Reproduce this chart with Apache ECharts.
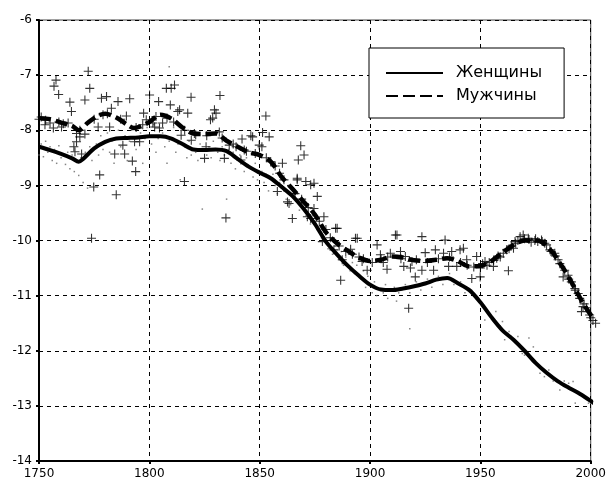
<!DOCTYPE html>
<html>
<head>
<meta charset="utf-8">
<script src="https://cdn.jsdelivr.net/npm/echarts@6/dist/echarts.min.js"></script>
<style>
  html, body { margin: 0; padding: 0; background: #fff; }
  #chart { width: 609px; height: 480px; }
</style>
</head>
<body>
<div id="chart"></div>
<script>
// Axis ranges and tick spacing
const yearTicks = { min: 1750, max: 2000, step: 50 };
const valueTicks = { min: -14, max: -6, step: 1 };

// Smoothed trend, women: [year, value]
const womenTrend = [
  [1750,-8.30],[1755,-8.36],[1760,-8.43],[1765,-8.51],[1768,-8.57],[1770,-8.52],
  [1775,-8.33],[1780,-8.21],[1785,-8.15],[1790,-8.14],[1795,-8.13],[1800,-8.11],
  [1805,-8.11],[1810,-8.15],[1815,-8.25],[1820,-8.35],[1825,-8.36],[1830,-8.35],
  [1835,-8.38],[1840,-8.52],[1845,-8.66],[1850,-8.77],[1855,-8.87],[1860,-9.03],
  [1865,-9.20],[1870,-9.43],[1875,-9.70],[1880,-10.02],[1885,-10.25],[1890,-10.46],
  [1895,-10.64],[1900,-10.80],[1905,-10.89],[1910,-10.90],[1915,-10.87],[1920,-10.83],
  [1925,-10.78],[1930,-10.71],[1935,-10.68],[1940,-10.78],[1945,-10.90],[1950,-11.12],
  [1955,-11.39],[1960,-11.63],[1965,-11.80],[1970,-12.00],[1975,-12.22],[1980,-12.40],
  [1985,-12.55],[1990,-12.67],[1995,-12.78],[2000,-12.91],[2002,-12.97]
];

// Smoothed trend, men: [year, value]
const menTrend = [
  [1750,-7.78],[1755,-7.80],[1760,-7.86],[1765,-7.92],[1768,-8.00],[1772,-7.87],
  [1776,-7.75],[1780,-7.70],[1785,-7.77],[1790,-7.90],[1793,-7.96],[1796,-7.93],
  [1800,-7.85],[1805,-7.72],[1810,-7.79],[1815,-7.95],[1820,-8.06],[1825,-8.07],
  [1830,-8.06],[1835,-8.19],[1840,-8.30],[1845,-8.40],[1850,-8.45],[1855,-8.57],
  [1860,-8.85],[1865,-9.07],[1870,-9.30],[1875,-9.53],[1880,-9.85],[1885,-10.05],
  [1890,-10.19],[1895,-10.31],[1900,-10.37],[1905,-10.35],[1910,-10.29],[1915,-10.31],
  [1920,-10.36],[1925,-10.37],[1930,-10.35],[1935,-10.32],[1940,-10.38],[1945,-10.47],
  [1950,-10.46],[1955,-10.37],[1960,-10.22],[1965,-10.08],[1970,-10.00],[1975,-10.00],
  [1978,-10.03],[1980,-10.10],[1983,-10.23],[1985,-10.35],[1988,-10.53],[1990,-10.67],
  [1993,-10.88],[1996,-11.10],[2000,-11.35],[2002,-11.43]
];

// Yearly observations, men: [year, value]
const menObserved = [
  [1750,-7.80],[1751,-7.76],[1752.7,-7.90],[1753,-7.82],[1755,-7.87],[1756.5,-7.96],
  [1756.8,-7.20],[1757.7,-7.09],[1758.9,-7.35],[1759,-7.85],[1760.2,-7.94],[1761,-7.88],
  [1763.2,-7.87],[1764,-7.49],[1764.7,-7.66],[1765.8,-8.30],[1766.3,-8.39],[1767,-8.06],
  [1767,-8.21],[1768.5,-8.00],[1768.5,-8.12],[1769.3,-8.43],[1770.8,-7.45],[1770.8,-8.07],
  [1772.3,-6.93],[1773,-7.24],[1773.8,-9.96],[1774.8,-9.03],[1775,-7.80],[1776.8,-7.94],
  [1777.5,-8.81],[1778.3,-7.42],[1779,-7.72],[1780.6,-7.39],[1781,-7.70],[1782,-7.94],
  [1782.8,-7.60],[1784.3,-8.43],[1785,-9.17],[1785.8,-7.48],[1787,-7.80],[1788,-8.27],
  [1788.8,-8.43],[1789.6,-7.74],[1791.1,-7.43],[1792.3,-8.56],[1793.3,-8.21],[1793.8,-8.75],
  [1794,-7.95],[1795.6,-8.21],[1797,-7.90],[1797.4,-7.69],[1798.6,-7.81],[1800.1,-7.36],
  [1801.6,-7.87],[1802.4,-7.94],[1803,-7.75],[1804.2,-7.48],[1804.6,-7.96],[1806,-7.87],
  [1807.7,-7.24],[1808,-7.78],[1809.5,-7.54],[1809.9,-7.24],[1811,-7.85],[1811.4,-7.18],
  [1812.9,-7.66],[1813.7,-7.63],[1814.4,-8.09],[1815.9,-8.93],[1816,-8.00],[1817.4,-7.69],
  [1818.9,-7.40],[1819,-8.18],[1820.4,-8.06],[1821,-8.08],[1825,-8.51],[1825.7,-8.30],
  [1826,-8.10],[1827.7,-7.81],[1828.7,-7.78],[1829.5,-7.63],[1830.2,-7.69],[1831.7,-8.03],
  [1832,-7.37],[1833,-8.14],[1834,-8.51],[1834.7,-9.59],[1836.2,-8.27],[1838,-8.25],
  [1839.3,-8.30],[1841.5,-8.54],[1842,-8.16],[1843,-8.36],[1844,-8.38],[1846,-8.10],
  [1846.8,-8.12],[1848,-8.42],[1849.8,-8.27],[1851,-8.30],[1851.3,-8.04],[1852.8,-7.74],
  [1853,-8.50],[1854.3,-8.12],[1855,-8.57],[1857,-8.65],[1858,-9.11],[1859,-8.78],
  [1860.3,-8.60],[1861,-8.90],[1862.6,-9.30],[1863.3,-9.33],[1864.8,-9.60],[1866,-9.15],
  [1867,-8.87],[1867,-8.90],[1867.5,-8.54],[1868.6,-8.28],[1869,-9.25],[1870.1,-8.45],
  [1870.9,-8.93],[1871.6,-9.57],[1872,-9.40],[1873.1,-8.99],[1873.1,-9.60],[1874.6,-8.96],
  [1874.6,-9.42],[1876.1,-9.20],[1877,-9.65],[1878.4,-10.02],[1879.1,-9.57],[1880,-9.80],
  [1882,-9.95],[1883.6,-10.17],[1884.4,-9.78],[1885.1,-9.78],[1886,-10.10],[1886.7,-10.72],
  [1887.4,-10.35],[1889,-10.20],[1891.2,-10.16],[1892,-10.25],[1893.4,-9.96],[1894.2,-9.96],
  [1895,-10.30],[1896.4,-10.38],[1897,-10.33],[1898.7,-10.54],[1901,-10.40],[1903.2,-10.08],
  [1904.7,-10.26],[1905,-10.33],[1906,-10.40],[1907.7,-10.52],[1908,-10.30],[1909.2,-10.23],
  [1911.5,-9.90],[1912.2,-9.90],[1913.8,-10.20],[1914,-10.33],[1915.3,-10.47],[1916,-10.29],
  [1917.5,-11.23],[1918.3,-10.50],[1919,-10.38],[1920.5,-10.66],[1921,-10.35],[1923.5,-9.93],
  [1923.5,-10.54],[1925,-10.22],[1926,-10.40],[1928.8,-10.54],[1929.6,-10.17],[1931,-10.33],
  [1933.3,-10.23],[1934,-9.99],[1935.6,-10.47],[1936,-10.30],[1937,-10.20],[1939.3,-10.47],
  [1940.8,-10.17],[1941,-10.40],[1942.3,-10.14],[1943.8,-10.35],[1944,-10.45],[1946.1,-10.69],
  [1947,-10.48],[1948.3,-10.29],[1949.9,-10.66],[1950,-10.50],[1951,-10.42],[1952.1,-10.38],
  [1953,-10.45],[1954,-10.40],[1955.9,-10.47],[1956,-10.36],[1957.4,-10.32],[1958,-10.28],
  [1959,-10.30],[1960.4,-10.23],[1961.9,-10.17],[1962.7,-10.55],[1963,-10.15],[1964,-10.10],
  [1965,-10.14],[1965.7,-10.02],[1966,-10.05],[1967,-10.00],[1968,-9.93],[1969.4,-9.90],
  [1970,-9.97],[1971.7,-9.96],[1972,-9.98],[1973,-10.03],[1974.7,-10.00],[1975,-9.97],
  [1976,-10.02],[1977.7,-9.99],[1978,-10.02],[1979.2,-10.05],[1980,-10.08],[1981.5,-10.17],
  [1982,-10.20],[1983.7,-10.23],[1984,-10.28],[1985.2,-10.35],[1986,-10.42],[1987.5,-10.66],
  [1988.2,-10.54],[1989.7,-10.63],[1990,-10.70],[1991.2,-10.75],[1992.8,-10.87],[1993,-10.90],
  [1994.3,-10.96],[1995,-11.05],[1995.8,-11.29],[1996.5,-11.20],[1997,-11.15],[1998,-11.22],
  [1999.5,-11.35],[2000,-11.40],[2001,-11.45],[2002.2,-11.50]
];

// Yearly observations, women: [year, value]
const womenObserved = [
  [1750,-8.45],[1751,-8.25],[1752,-8.48],[1753,-8.20],[1754,-8.40],[1755,-8.30],
  [1756,-8.55],[1757,-8.35],[1758,-8.60],[1759,-8.28],[1760,-8.50],[1761,-8.45],
  [1762,-8.62],[1763,-8.40],[1764,-8.70],[1765,-8.45],[1766,-8.75],[1767,-8.55],
  [1768,-8.82],[1769,-8.50],[1770,-8.95],[1771,-8.40],[1772,-9.05],[1773,-8.30],
  [1774,-8.55],[1776,-8.25],[1777,-8.45],[1778,-8.10],[1779,-8.35],[1781,-8.05],
  [1782,-8.40],[1783,-8.20],[1784,-8.60],[1786,-8.00],[1787,-8.30],[1789,-8.10],
  [1790,-8.55],[1791,-8.20],[1792,-8.00],[1794,-8.35],[1796,-8.05],[1797,-8.60],
  [1798,-8.15],[1799,-7.95],[1801,-8.25],[1802,-7.90],[1803,-8.40],[1804,-8.15],
  [1806,-8.05],[1807,-8.30],[1808,-8.60],[1809,-6.85],[1809,-8.20],[1811,-7.95],
  [1812,-8.40],[1813,-8.25],[1814,-8.90],[1816,-8.30],[1817,-8.50],[1818,-8.20],
  [1819,-8.45],[1821,-8.40],[1822,-8.55],[1823,-8.25],[1824,-9.43],[1826,-8.45],
  [1827,-8.30],[1828,-8.50],[1829,-8.20],[1831,-8.40],[1832,-8.55],[1833,-8.30],
  [1834,-8.45],[1835,-9.25],[1836,-8.35],[1837,-8.60],[1838,-8.40],[1839,-8.70],
  [1841,-8.45],[1842,-8.60],[1843,-8.75],[1844,-8.50],[1846,-8.70],[1847,-8.85],
  [1848,-8.60],[1849,-8.90],[1851,-8.75],[1852,-8.95],[1853,-8.80],[1854,-9.10],
  [1856,-8.80],[1857,-9.00],[1858,-9.15],[1859,-8.95],[1861,-9.10],[1862,-9.25],
  [1863,-9.00],[1864,-9.35],[1866,-9.25],[1867,-9.15],[1868,-9.45],[1869,-9.30],
  [1871,-9.55],[1872,-9.40],[1873,-9.70],[1874,-9.55],[1876,-9.80],[1877,-9.65],
  [1878,-9.95],[1879,-9.85],[1881,-10.15],[1882,-9.95],[1883,-10.25],[1884,-10.10],
  [1886,-10.35],[1887,-10.20],[1888,-10.45],[1889,-10.30],[1891,-10.55],[1892,-10.40],
  [1893,-10.60],[1894,-10.45],[1896,-10.70],[1897,-10.55],[1898,-10.85],[1899,-10.65],
  [1901,-10.95],[1902,-10.75],[1903,-11.00],[1906,-10.95],[1907,-10.80],[1908,-11.05],
  [1911,-10.85],[1912,-11.10],[1913,-10.95],[1916,-10.80],[1918,-10.95],[1918,-11.60],
  [1921,-10.75],[1923,-10.90],[1926,-10.70],[1928,-10.85],[1931,-10.65],[1933,-10.80],
  [1936,-10.60],[1938,-10.80],[1941,-10.75],[1943,-10.95],[1946,-10.90],[1948,-11.05],
  [1951,-11.20],[1952,-11.44],[1954,-11.32],[1957,-11.29],[1959,-11.55],[1960,-11.47],
  [1961,-11.80],[1963,-11.65],[1964,-11.74],[1967,-11.74],[1969,-12.05],[1970,-12.08],
  [1972,-11.77],[1974,-11.93],[1976,-12.25],[1977,-12.41],[1979,-12.47],[1981,-12.35],
  [1983,-12.55],[1986,-12.71],[1988,-12.55],[1990,-12.59],[1992,-12.56],[1993,-12.95],
  [1995,-12.80],[1997,-12.85],[1999,-12.95],[2001,-12.92]
];

const legendNames = ['Женщины', 'Мужчины'];

// Thin plus-sign marker
const plusPath = 'path://M-0.6,-5H0.6V-0.6H5V0.6H0.6V5H-0.6V0.6H-5V-0.6H-0.6Z';

const chart = echarts.init(document.getElementById('chart'), null, { renderer: 'canvas' });

const gridLine = { show: true, lineStyle: { color: '#000', width: 1, type: [4, 4] } };
const labelFont = { color: '#000', fontSize: 12, fontFamily: 'DejaVu Sans' };
const plainNumber = v => String(v);

chart.setOption({
  animation: false,
  backgroundColor: '#fff',
  grid: {
    left: 39, right: 16, top: 20, bottom: 19,
    show: true, borderColor: '#444', borderWidth: 1, backgroundColor: '#fff'
  },
  legend: {
    data: legendNames,
    orient: 'vertical',
    left: 369, top: 48,
    itemWidth: 57, itemHeight: 14, itemGap: 7,
    padding: [17, 22, 14, 16],
    backgroundColor: '#fff', borderColor: '#000', borderWidth: 1, borderRadius: 0,
    // line-only key: hide the point marker drawn in the middle of each key line
    itemStyle: { opacity: 0 },
    textStyle: { color: '#000', fontSize: 16, fontFamily: 'DejaVu Sans', padding: [0, 0, 0, 8] }
  },
  xAxis: {
    type: 'value',
    min: yearTicks.min, max: yearTicks.max, interval: yearTicks.step,
    axisLine: { show: true, lineStyle: { color: '#000', width: 2 } },
    axisTick: { show: true, length: 3, lineStyle: { color: '#000', width: 2 } },
    axisLabel: Object.assign({ margin: 7, formatter: plainNumber }, labelFont),
    splitLine: gridLine
  },
  yAxis: {
    type: 'value',
    min: valueTicks.min, max: valueTicks.max, interval: valueTicks.step,
    axisLine: { show: true, lineStyle: { color: '#000', width: 2 } },
    axisTick: { show: true, length: 3, lineStyle: { color: '#000', width: 2 } },
    axisLabel: Object.assign({ margin: 7, formatter: plainNumber }, labelFont),
    splitLine: gridLine
  },
  series: [
    {
      name: 'women-observed',
      type: 'scatter',
      data: womenObserved,
      symbol: 'rect', symbolSize: 1.5,
      itemStyle: { color: '#666' },
      clip: false, silent: true, z: 2
    },
    {
      name: 'men-observed',
      type: 'scatter',
      data: menObserved,
      symbol: plusPath, symbolSize: 9,
      itemStyle: { color: '#000' },
      clip: false, silent: true, z: 3
    },
    {
      name: legendNames[0],
      type: 'line',
      data: womenTrend,
      smooth: 0.3, symbol: 'none', showSymbol: false,
      lineStyle: { color: '#000', width: 4, type: 'solid' },
      itemStyle: { color: '#000' },
      clip: false, z: 4
    },
    {
      name: legendNames[1],
      type: 'line',
      data: menTrend,
      smooth: 0.3, symbol: 'none', showSymbol: false,
      lineStyle: { color: '#000', width: 4.5, type: [12, 5] },
      itemStyle: { color: '#000' },
      clip: false, z: 4
    }
  ]
});
</script>
</body>
</html>
